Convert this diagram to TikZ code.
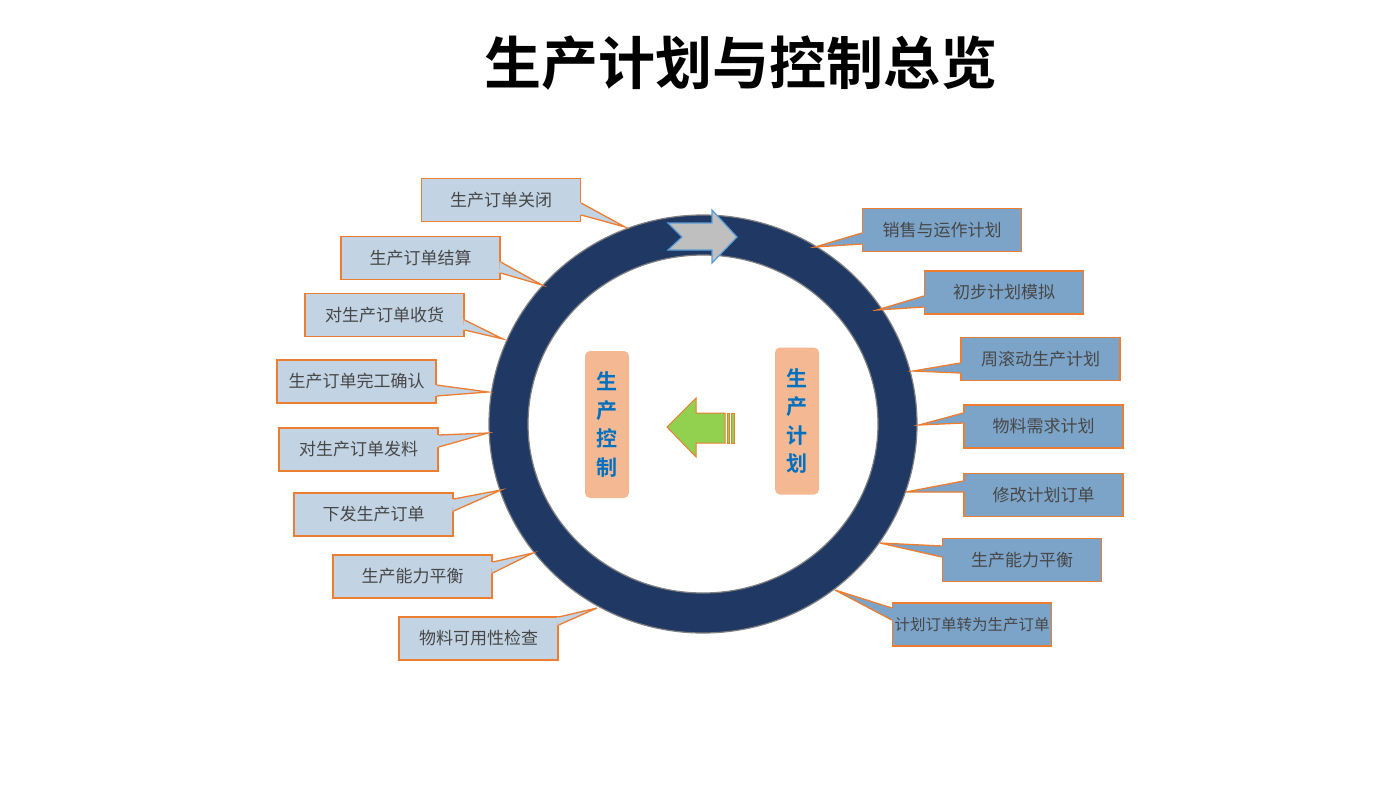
\documentclass[tikz,border=0pt]{standalone}
\usepackage{fontspec}
\newfontfamily\cjk{Noto Sans CJK SC}[BoldFont={Noto Sans CJK SC Bold}]
\usetikzlibrary{calc}

\definecolor{ringblue}{RGB}{31,56,100}
\definecolor{calloutline}{RGB}{237,125,49}
\definecolor{lightbox}{RGB}{194,211,228}
\definecolor{darkbox}{RGB}{124,164,201}
\definecolor{peach}{RGB}{244,185,147}
\definecolor{textblue}{RGB}{0,112,192}
\definecolor{leafgreen}{RGB}{146,208,80}
\definecolor{arrowgray}{RGB}{191,191,191}
\definecolor{arrowedge}{RGB}{91,155,213}

\tikzset{
  callout/.style={draw=calloutline, line width=1.3pt, minimum width=159pt, minimum height=43pt,
    inner sep=0pt, text=black!72, font=\cjk\fontsize{17}{20}\selectfont},
  leftcall/.style={callout, fill=lightbox},
  rightcall/.style={callout, fill=darkbox},
  stage/.style={fill=peach, rounded corners=5pt, minimum width=44pt, minimum height=147pt,
    inner sep=0pt, text=textblue, align=center, font=\cjk\bfseries\fontsize{21}{28.5}\selectfont},
}

% wedge of a callout: fill, box anchor, base y1, base y2, tip
\newcommand{\callouttab}[5]{%
  \fill[#1] ($(#2 |- 0,#3)!-1.5pt!(#5)$) -- (#5) -- ($(#2 |- 0,#4)!-1.5pt!(#5)$) -- cycle;
  \draw[calloutline, line width=1.3pt] (#2 |- 0,#3) -- (#5) -- (#2 |- 0,#4);}

\begin{document}
\begin{tikzpicture}[x=1pt, y=-1pt]
\useasboundingbox (0,0) rectangle (1400,788);

\node[font=\cjk\bfseries\fontsize{57}{57}\selectfont] (title) at (741,63) {生产计划与控制总览};

% ring
\coordinate (hub) at (703,424);
\fill[ringblue, even odd rule] (hub) ellipse [x radius=214, y radius=209]
                               (hub) ellipse [x radius=175, y radius=169];
\draw[gray, line width=1.2pt] (hub) ellipse [x radius=214, y radius=209];
\draw[gray, line width=1.2pt] (hub) ellipse [x radius=175, y radius=169];

% arrow on the ring
\draw[fill=arrowgray, draw=arrowedge, line width=1.2pt, line join=miter]
  (668,223) -- (712,223) -- (712,210) -- (737,237) -- (712,263) -- (712,250)
  -- (668,250) -- (682,237) -- cycle;

% left side: control
\node[leftcall] (l1) at (501,200)   {生产订单关闭};
\node[leftcall] (l2) at (420.5,258) {生产订单结算};
\node[leftcall] (l3) at (384.5,315) {对生产订单收货};
\node[leftcall] (l4) at (356.5,381.5) {生产订单完工确认};
\node[leftcall] (l5) at (358.5,449.5) {对生产订单发料};
\node[leftcall] (l6) at (373.5,514.5) {下发生产订单};
\node[leftcall] (l7) at (412.5,576.5) {生产能力平衡};
\node[leftcall] (l8) at (478.5,638.5) {物料可用性检查};
\coordinate (lt1) at (625,227);
\coordinate (lt2) at (542,285);
\coordinate (lt3) at (503,339);
\coordinate (lt4) at (488,392);
\coordinate (lt5) at (488,433);
\coordinate (lt6) at (501,490);
\coordinate (lt7) at (533,553);
\coordinate (lt8) at (597,608);
\callouttab{lightbox}{l1.east}{203}{215}{lt1}
\callouttab{lightbox}{l2.east}{262}{273}{lt2}
\callouttab{lightbox}{l3.east}{320}{330}{lt3}
\callouttab{lightbox}{l4.east}{385}{396}{lt4}
\callouttab{lightbox}{l5.east}{435}{447}{lt5}
\callouttab{lightbox}{l6.east}{499}{511}{lt6}
\callouttab{lightbox}{l7.east}{562}{573}{lt7}
\callouttab{lightbox}{l8.east}{617}{625}{lt8}

% right side: planning
\node[rightcall] (r1) at (942,230)    {销售与运作计划};
\node[rightcall] (r2) at (1004,292.5) {初步计划模拟};
\node[rightcall] (r3) at (1040.5,359) {周滚动生产计划};
\node[rightcall] (r4) at (1043.5,426.5) {物料需求计划};
\node[rightcall] (r5) at (1043.5,495) {修改计划订单};
\node[rightcall] (r6) at (1022,560)   {生产能力平衡};
\node[rightcall, font=\cjk\fontsize{15.5}{18}\selectfont] (r7) at (972,624.5) {计划订单转为生产订单};
\coordinate (rt1) at (815,247);
\coordinate (rt2) at (877,310);
\coordinate (rt3) at (913,371);
\coordinate (rt4) at (919,425);
\coordinate (rt5) at (906,492);
\coordinate (rt6) at (880,543);
\coordinate (rt7) at (835,590);
\callouttab{darkbox}{r1.west}{233}{244}{rt1}
\callouttab{darkbox}{r2.west}{296}{307}{rt2}
\callouttab{darkbox}{r3.west}{363}{373}{rt3}
\callouttab{darkbox}{r4.west}{413}{423}{rt4}
\callouttab{darkbox}{r5.west}{481}{492}{rt5}
\callouttab{darkbox}{r6.west}{546}{557}{rt6}
\callouttab{darkbox}{r7.west}{608}{620}{rt7}

% centre
\node[stage] (control) at (607,424.5) {生\\产\\控\\制};
\node[stage] (plan) at (797,421) {生\\产\\计\\划};
\draw[fill=leafgreen, draw=calloutline, line width=1pt, line join=miter]
  (667,427) -- (696,398) -- (696,413) -- (725,413) -- (725,443) -- (696,443) -- (696,457) -- cycle;
\draw[fill=leafgreen, draw=calloutline, line width=0.8pt] (727,413) rectangle (729.5,443);
\draw[fill=leafgreen, draw=calloutline, line width=0.8pt] (731.5,413) rectangle (734.5,443);
\end{tikzpicture}
\end{document}
